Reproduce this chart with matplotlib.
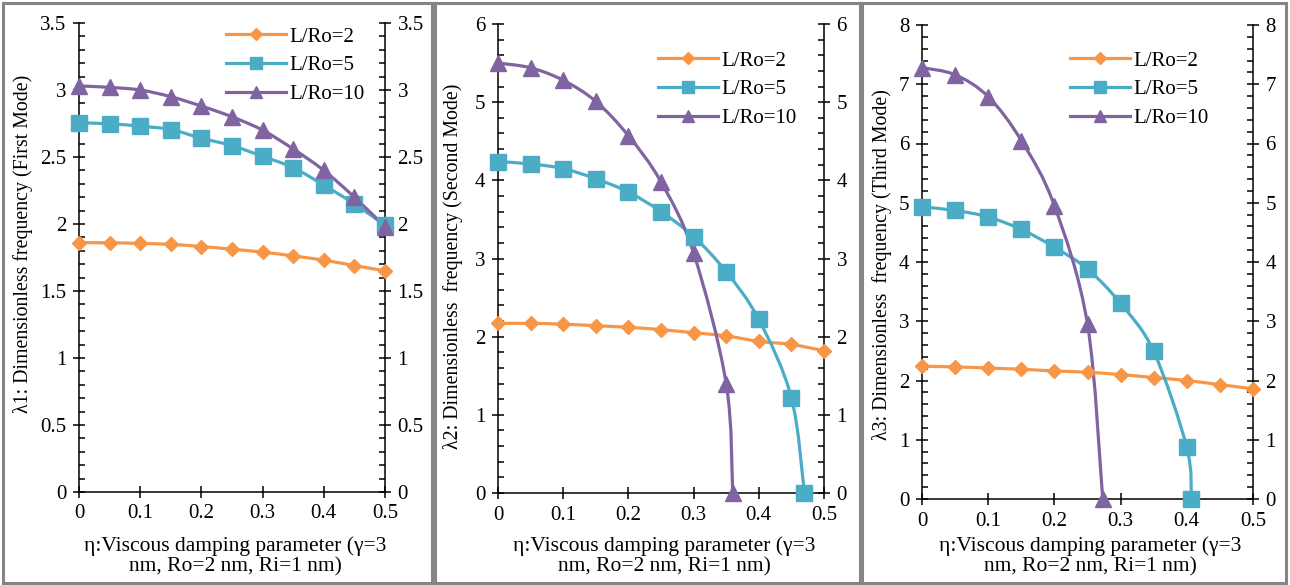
import numpy as np
import matplotlib
matplotlib.use("Agg")
import matplotlib.pyplot as plt
from matplotlib.path import Path
from matplotlib.patches import PathPatch, Rectangle
from matplotlib.lines import Line2D
from matplotlib.ticker import MultipleLocator

plt.rcParams['font.family'] = ['Liberation Serif', 'DejaVu Serif']
plt.rcParams['font.size'] = 15

# ---- data -------------------------------------------------------------
eta = [0, 0.05, 0.1, 0.15, 0.2, 0.25, 0.3, 0.35, 0.4, 0.45, 0.5]

# first mode
m1_x2, m1_y2 = eta, [1.86, 1.86, 1.855, 1.848, 1.832, 1.812, 1.79, 1.762, 1.73, 1.69, 1.65]
m1_x5, m1_y5 = eta, [2.755, 2.748, 2.73, 2.705, 2.64, 2.585, 2.505, 2.42, 2.29, 2.15, 1.99]
m1_x10, m1_y10 = eta, [3.03, 3.02, 3.00, 2.95, 2.88, 2.80, 2.70, 2.56, 2.40, 2.20, 1.98]

# second mode
m2_x2, m2_y2 = eta, [2.17, 2.17, 2.16, 2.14, 2.12, 2.09, 2.05, 2.01, 1.94, 1.90, 1.82]
m2_x5 = [0, 0.05, 0.1, 0.15, 0.2, 0.25, 0.3, 0.35, 0.4, 0.45, 0.47]
m2_y5 = [4.24, 4.21, 4.15, 4.02, 3.85, 3.60, 3.28, 2.83, 2.22, 1.22, 0.0]
m2_x10 = [0, 0.05, 0.1, 0.15, 0.2, 0.25, 0.3, 0.35, 0.36]
m2_y10 = [5.50, 5.44, 5.28, 5.01, 4.57, 3.98, 3.07, 1.40, 0.0]

# third mode
m3_x2, m3_y2 = eta, [2.24, 2.23, 2.21, 2.19, 2.16, 2.14, 2.10, 2.05, 2.00, 1.93, 1.86]
m3_x5 = [0, 0.05, 0.1, 0.15, 0.2, 0.25, 0.3, 0.35, 0.4, 0.407]
m3_y5 = [4.93, 4.87, 4.76, 4.55, 4.25, 3.88, 3.30, 2.49, 0.87, 0.0]
m3_x10 = [0, 0.05, 0.1, 0.15, 0.2, 0.25, 0.273]
m3_y10 = [7.28, 7.16, 6.79, 6.05, 4.95, 2.95, 0.0]

series_labels = ['L/Ro=2', 'L/Ro=5', 'L/Ro=10']
y_labels = ['\u03bb1: Dimensionless frequency (First Mode)',
            '\u03bb2: Dimensionless  frequency (Second Mode)',
            '\u03bb3: Dimensionless  frequency (Third Mode)']
x_label = '\u03b7:Viscous damping parameter (\u03b3=3\nnm, Ro=2 nm, Ri=1 nm)'
y_max = [3.5, 6, 8]
y_major = [0.5, 1, 1]
y_minor = [0.1, 0.2, 0.2]

# ---- styling ----------------------------------------------------------
colors = ['#F79646', '#4BACC6', '#8064A2']
markers = ['D', 's', '^']
msizes = [7.5, 11.5, 12]
W, H = 1290, 585

# axes rectangles in pixels: left, right, top(ymax), bottom(y=0)
ax_px = [(79, 385, 23, 492), (498, 824, 24, 493), (922, 1253, 25, 499)]
frame_px = [(3, 432, 3, 583), (435, 860, 3, 583), (862, 1286, 3, 583)]
legend_px = [(226, 27), (658, 51), (1070, 51)]
ylabel_px = [(23, 244), (453, 266), (882, 265)]
xlabel_y_px = 556


def smooth_path(x, y):
    """Bezier path through the points with Catmull-Rom style tangents."""
    pts = np.column_stack([x, y]).astype(float)
    n = len(pts)
    verts = [pts[0]]
    codes = [Path.MOVETO]
    for i in range(n - 1):
        p0 = pts[i - 1] if i > 0 else pts[i]
        p1, p2 = pts[i], pts[i + 1]
        p3 = pts[i + 2] if i + 2 < n else pts[i + 1]
        verts += [p1 + (p2 - p0) / 6.0, p2 - (p3 - p1) / 6.0, p2]
        codes += [Path.CURVE4] * 3
    return Path(verts, codes)


fig = plt.figure(figsize=(W / 100, H / 100), dpi=100)
fig.patch.set_facecolor('white')

panels = [
    [(m1_x2, m1_y2), (m1_x5, m1_y5), (m1_x10, m1_y10)],
    [(m2_x2, m2_y2), (m2_x5, m2_y5), (m2_x10, m2_y10)],
    [(m3_x2, m3_y2), (m3_x5, m3_y5), (m3_x10, m3_y10)],
]

for k, series in enumerate(panels):
    l, r, t, b = ax_px[k]
    ax = fig.add_axes([l / W, 1 - b / H, (r - l) / W, (b - t) / H])
    ax.set_xlim(0, 0.5)
    ax.set_ylim(0, y_max[k])

    for j, (xs, ys) in enumerate(series):
        ax.add_patch(PathPatch(smooth_path(xs, ys), facecolor='none',
                               edgecolor=colors[j], lw=2.3,
                               capstyle='round', joinstyle='round',
                               zorder=2, clip_on=False))
        ax.plot(xs, ys, ls='none', marker=markers[j], ms=msizes[j],
                color=colors[j], mec=colors[j], clip_on=False, zorder=3)

    ax.spines['top'].set_visible(False)
    for s in ('left', 'right', 'bottom'):
        ax.spines[s].set_linewidth(1.1)
        ax.spines[s].set_color('black')

    ax.xaxis.set_major_locator(MultipleLocator(0.1))
    ax.yaxis.set_major_locator(MultipleLocator(y_major[k]))
    ax.yaxis.set_minor_locator(MultipleLocator(y_minor[k]))
    ax.xaxis.set_major_formatter(plt.FuncFormatter(lambda v, p: f'{v:g}'))
    ax.yaxis.set_major_formatter(plt.FuncFormatter(lambda v, p: f'{v:g}'))

    ax.tick_params(axis='x', which='major', direction='inout', length=8,
                   width=1.1, pad=5, labelsize=15)
    ax.tick_params(axis='y', which='major', direction='inout', length=8,
                   width=1.1, pad=5, labelsize=15, left=True, right=True,
                   labelleft=True, labelright=True)
    ax.tick_params(axis='y', which='minor', direction='in', length=4.5,
                   width=1.1, left=True, right=True)

    ax.set_xlabel(x_label, fontsize=15.5, linespacing=1.08, va='center',
                  ha='center')
    ax.xaxis.set_label_coords(((l + r) / 2 + 3) / W, 1 - xlabel_y_px / H,
                              transform=fig.transFigure)

    yx, yy = ylabel_px[k]
    fig.text(yx / W, 1 - yy / H, y_labels[k], rotation=90, ha='center',
             va='center', fontsize=14.3)

    handles = [Line2D([], [], color=colors[j], lw=2.3, marker=markers[j],
                      ms=msizes[j] * 0.75, mec=colors[j])
               for j in range(3)]
    lx, ly = legend_px[k]
    fig.legend(handles, series_labels, loc='upper left',
               bbox_to_anchor=(lx / W, 1 - ly / H), frameon=False,
               fontsize=15, handlelength=2.9, handletextpad=0.15,
               labelspacing=0.44, borderpad=0, borderaxespad=0, numpoints=1)

    fl, fr, ft, fb = frame_px[k]
    fig.add_artist(Rectangle((fl / W, 1 - fb / H), (fr - fl) / W, (fb - ft) / H,
                             transform=fig.transFigure, fill=False,
                             edgecolor='#858585', lw=2.2))

fig.savefig('out.png', dpi=100, facecolor='white')
